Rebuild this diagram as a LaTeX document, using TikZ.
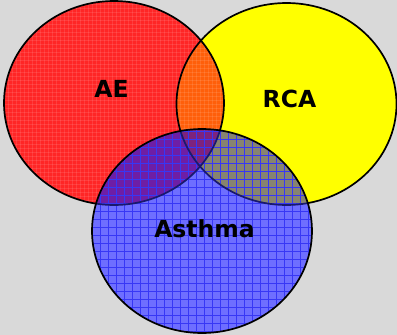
\documentclass[tikz,border=0pt]{standalone}
\usepackage{fontspec}
\setmainfont{DejaVu Sans}
\definecolor{bg}{RGB}{217,217,217}
\definecolor{redc}{RGB}{255,38,38}
\definecolor{yelc}{RGB}{255,255,0}
\definecolor{orac}{RGB}{255,95,10}
\definecolor{bluec}{RGB}{110,110,255}
\definecolor{purc}{RGB}{110,30,165}
\definecolor{grayc}{RGB}{135,132,112}
\definecolor{tric}{RGB}{125,35,125}
\definecolor{gridc}{RGB}{55,55,245}
\definecolor{inline}{RGB}{25,25,110}
\begin{document}
\begin{tikzpicture}[x=1pt,y=-1pt,
  lbl/.style={inner sep=0pt,font=\bfseries\fontsize{23.5}{28}\selectfont,text=black},
  outl/.style={line width=1.7pt}]
\def\Red{(114,103) ellipse [x radius=110, y radius=102]}
\def\Yel{(286.5,104) ellipse [x radius=110, y radius=101]}
\def\Blu{(202,231) ellipse [x radius=110, y radius=102]}
\fill[bg] (0,0) rectangle (397,335);
\useasboundingbox (0,0) rectangle (397,335);
% base fills
\fill[redc] \Red;
\fill[yelc] \Yel;
\begin{scope}\clip \Red; \fill[orac] \Yel; \end{scope}
% faint texture on red
\begin{scope}
  \clip \Red;
  \foreach \i in {0,4,...,230} {\draw[white,opacity=0.1,line width=0.8pt] (\i,0) -- (\i,210);}
  \foreach \j in {0,4,...,210} {\draw[white,opacity=0.1,line width=0.8pt] (0,\j) -- (230,\j);}
\end{scope}
% blue layer
\fill[bluec] \Blu;
\begin{scope}\clip \Blu; \fill[purc] \Red; \end{scope}
\begin{scope}\clip \Blu; \fill[grayc] \Yel; \end{scope}
\begin{scope}\clip \Blu; \clip \Red; \fill[tric] \Yel; \end{scope}
\begin{scope}
  \clip \Blu;
  \foreach \i in {92,100,...,315} {\draw[gridc,line width=0.8pt] (\i,125) -- (\i,335);}
  \foreach \j in {131,139,...,335} {\draw[gridc,line width=0.8pt] (88,\j) -- (315,\j);}
\end{scope}
% outlines of red and yellow: black outside blue, dark blue inside
\begin{scope}[even odd rule]
  \clip (0,0) rectangle (397,335) \Blu;
  \draw[outl,black] \Red;
  \draw[outl,black] \Yel;
\end{scope}
\begin{scope}
  \clip \Blu;
  \draw[outl,inline] \Red;
  \draw[outl,inline] \Yel;
\end{scope}
\draw[outl,black] \Blu;
% labels
\node[lbl] (ae) at (111.5,88.5) {AE};
\node[lbl] (rca) at (289.5,99) {RCA};
\node[lbl] (asthma) at (204.5,229) {Asthma};
\end{tikzpicture}
\end{document}
